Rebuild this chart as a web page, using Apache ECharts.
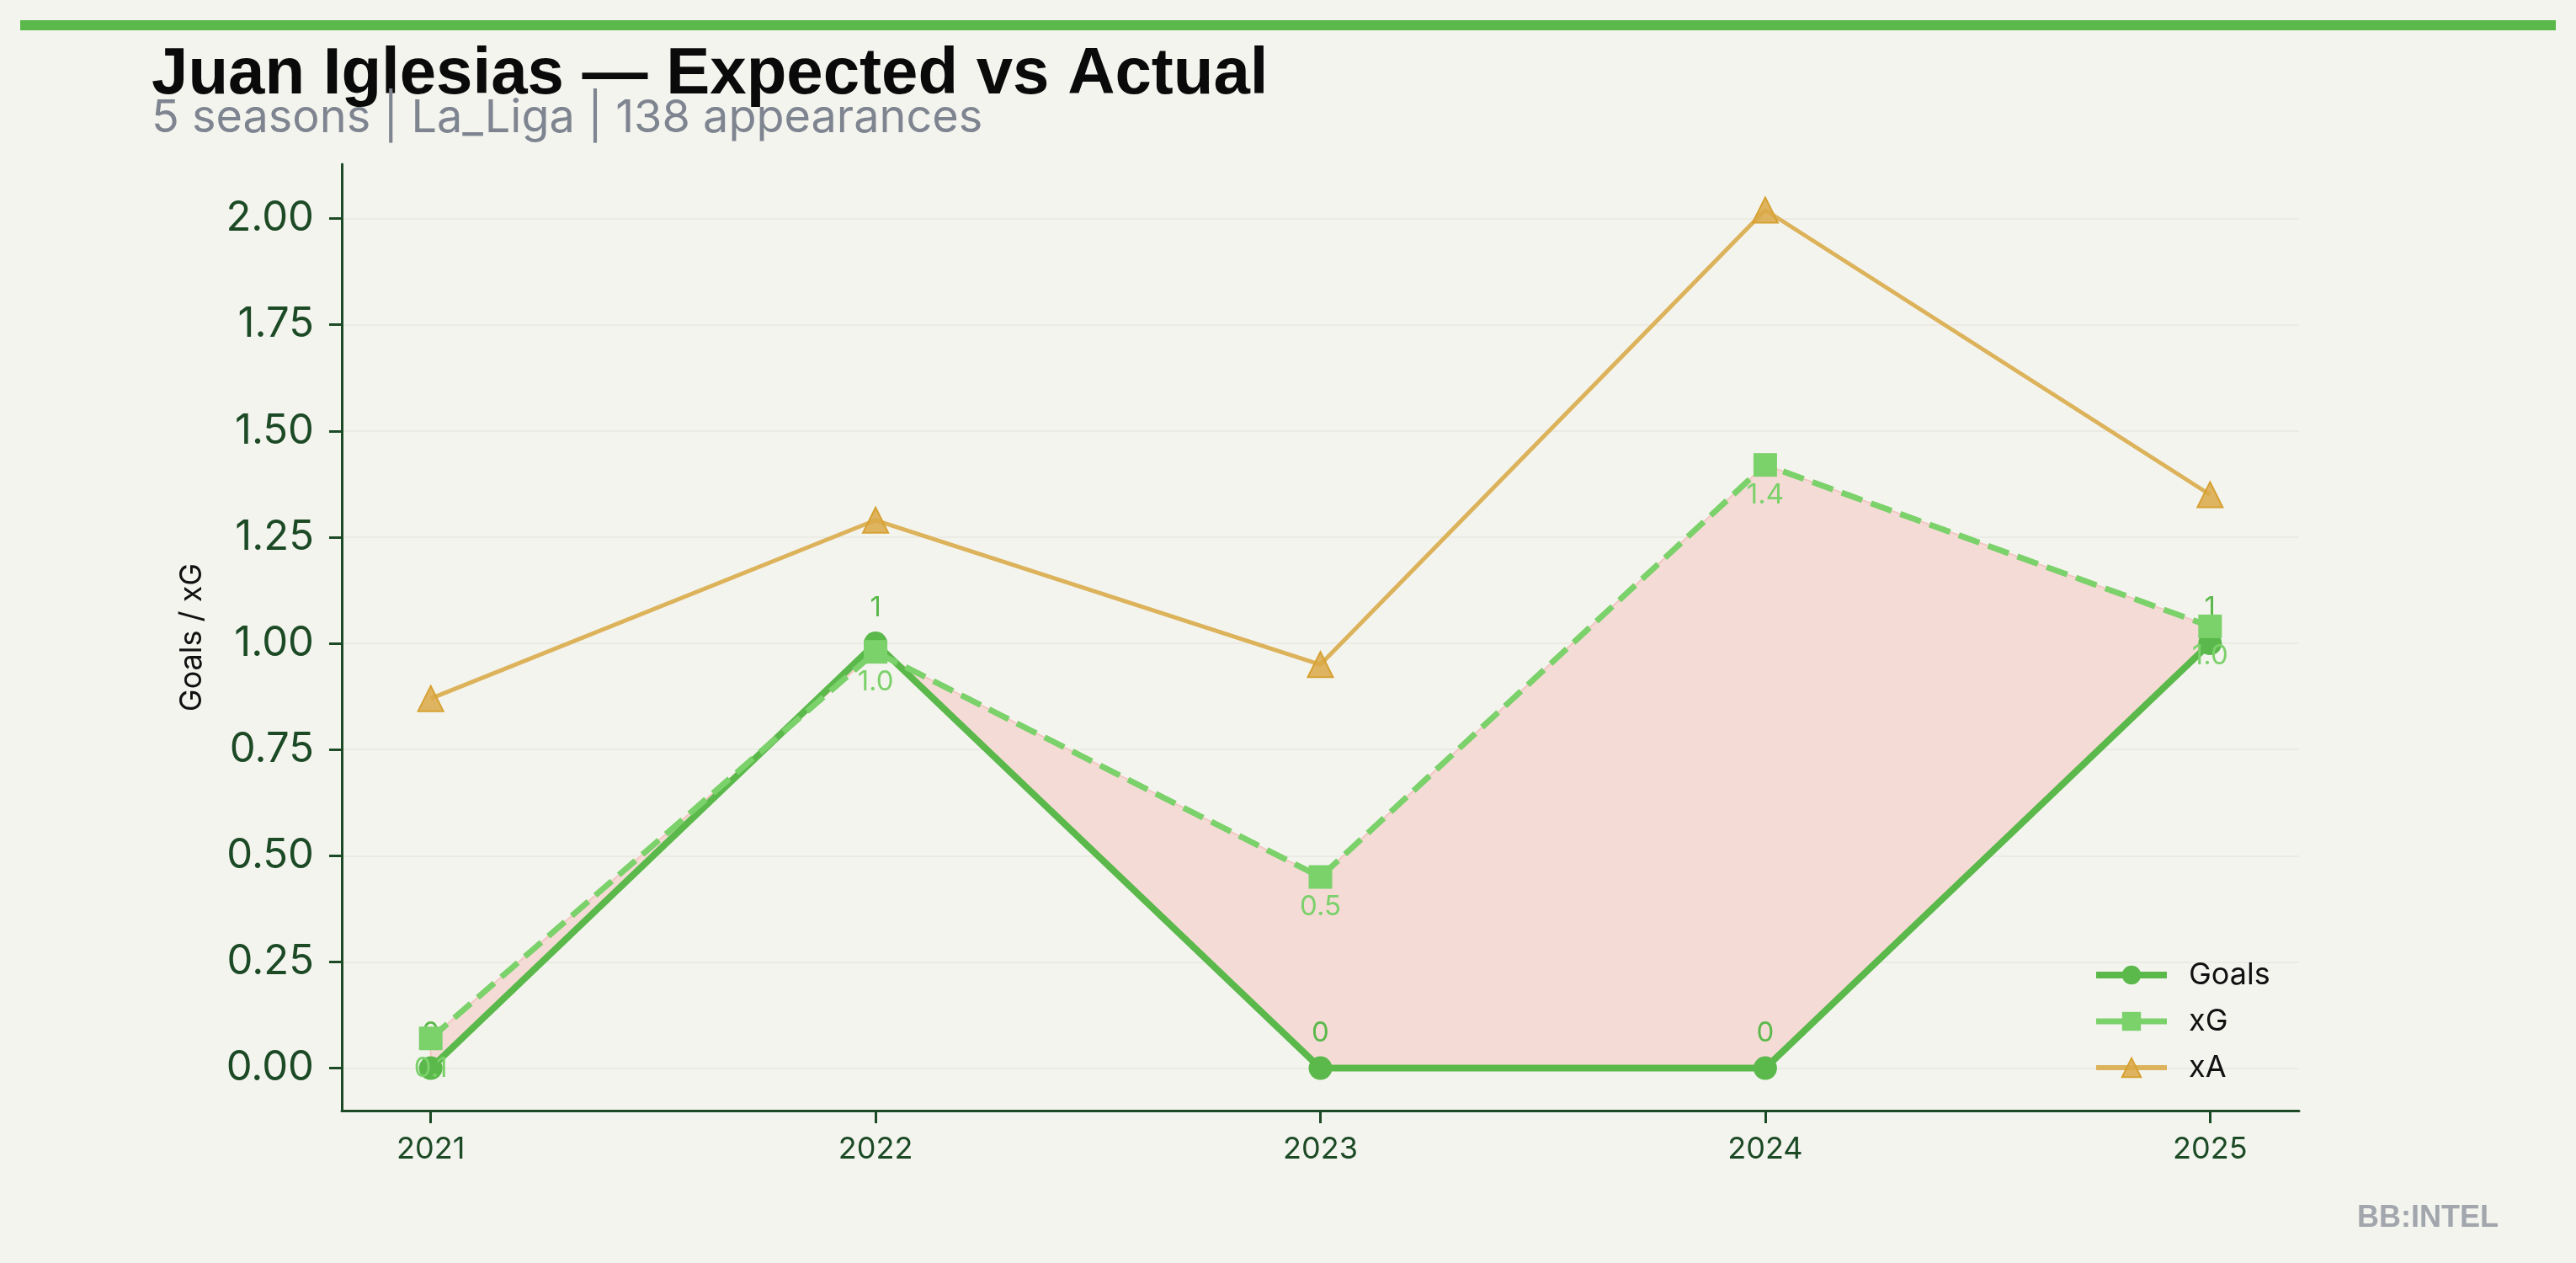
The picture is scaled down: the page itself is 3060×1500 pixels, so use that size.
<!DOCTYPE html>
<html>
<head>
<meta charset="utf-8">
<script src="https://cdn.jsdelivr.net/npm/echarts@6/dist/echarts.min.js"></script>
<style>
html,body{margin:0;padding:0;background:#f4f4ef;}
#chart{width:3060px;height:1500px;}
</style>
</head>
<body>
<div id="chart"></div>
<script>
const seasons = [2021, 2022, 2023, 2024, 2025];
const goals = [0, 1, 0, 0, 1];
const xg = [0.07, 0.98, 0.45, 1.42, 1.04];
const xa = [0.87, 1.29, 0.95, 2.02, 1.35];
const yTicks = [0, 0.25, 0.5, 0.75, 1.0, 1.25, 1.5, 1.75, 2.0];
const titleText = 'Juan Iglesias \u2014 Expected vs Actual';
const subtitleText = '5 seasons | La_Liga | 138 appearances';

const pairs = arr => seasons.map((s, i) => [s, arr[i]]);

const DARK = '#1c4a25';
const GOALS_C = '#5ab94a';
const XG_C = '#7bd16a';
const XA_C = '#dcb35b';

const chart = echarts.init(document.getElementById('chart'));
chart.setOption({
  backgroundColor: '#f4f4ef',
  animation: false,
  textStyle: { fontFamily: 'Inter' },
  graphic: [
    { type: 'rect', shape: { x: 24, y: 24, width: 3012, height: 12 }, style: { fill: GOALS_C } },
    { type: 'text', style: { x: 180, y: 50, text: titleText, font: 'bold 78px "Liberation Sans"', fill: '#0a0a0a', verticalAlign: 'top' } },
    { type: 'text', style: { x: 180, y: 114, text: subtitleText, font: '54px Inter', fill: '#7f8590', verticalAlign: 'top' } },
    { type: 'text', style: { x: 2968, y: 1429, text: 'BB:INTEL', font: 'bold 36px "Liberation Sans"', fill: '#a2a6ad', align: 'right', verticalAlign: 'top' } }
  ],
  grid: { left: 406, right: 329, top: 195, bottom: 181, containLabel: false },
  legend: {
    orient: 'vertical',
    left: 2486, top: 1140,
    itemWidth: 84, itemHeight: 28, itemGap: 19,
    padding: 0,
    textStyle: { fontFamily: 'Inter', fontSize: 36, color: '#111', padding: [0, 0, 0, 21] },
    data: [
      { name: 'Goals', lineStyle: { width: 8 } },
      { name: 'xG', lineStyle: { type: 'solid', width: 7 } },
      { name: 'xA', lineStyle: { width: 6 } }
    ]
  },
  xAxis: {
    type: 'value', min: 2020.8, max: 2025.2,
    axisLine: { show: true, onZero: false, lineStyle: { color: DARK, width: 3 } },
    axisTick: { show: true, length: 15, lineStyle: { color: DARK, width: 3 }, customValues: seasons },
    axisLabel: { customValues: seasons, fontSize: 36, color: DARK, margin: 28, fontFamily: 'Inter', formatter: v => String(v) },
    splitLine: { show: false }
  },
  yAxis: {
    type: 'value', min: -0.1, max: 2.128,
    name: 'Goals / xG', nameLocation: 'middle', nameGap: 160,
    nameTextStyle: { fontSize: 36, color: '#111', fontFamily: 'Inter' },
    axisLine: { show: true, onZero: false, lineStyle: { color: DARK, width: 3 } },
    axisTick: { show: true, length: 15, lineStyle: { color: DARK, width: 3 }, customValues: yTicks },
    axisLabel: { customValues: yTicks, fontSize: 49, color: DARK, margin: 33, fontFamily: 'Inter', formatter: v => v.toFixed(2) },
    splitLine: { show: true, lineStyle: { color: '#ebebe4', width: 2 } }
  },
  series: [
    {
      name: 'gap', type: 'custom', silent: true, z: 1,
      data: seasons.map((s, i) => [s, goals[i], xg[i]]),
      encode: { x: 0, y: [1, 2] },
      renderItem: (params, api) => {
        if (params.dataIndex !== 0) return null;
        const upper = seasons.map((s, i) => api.coord([s, goals[i]]));
        const lower = seasons.map((s, i) => api.coord([s, xg[i]])).reverse();
        return {
          type: 'polygon',
          shape: { points: upper.concat(lower) },
          style: { fill: '#f5dbd6', stroke: '#f2c8c2', lineWidth: 2 }
        };
      }
    },
    {
      name: 'xA', type: 'line', data: pairs(xa), color: XA_C,
      lineStyle: { color: XA_C, width: 5 },
      symbol: 'triangle', symbolSize: 30,
      itemStyle: { color: 'rgba(218,168,70,0.85)', borderColor: '#d6a132', borderWidth: 2 }, z: 2
    },
    {
      name: 'Goals', type: 'line', data: pairs(goals), color: GOALS_C,
      lineStyle: { color: GOALS_C, width: 8 },
      symbol: 'circle', symbolSize: 28, itemStyle: { color: GOALS_C },
      label: { show: true, position: 'top', distance: 11, color: GOALS_C, fontSize: 33, fontFamily: 'Inter',
               formatter: p => String(Math.round(p.value[1])) }, z: 3
    },
    {
      name: 'xG', type: 'line', data: pairs(xg), color: XG_C,
      lineStyle: { color: XG_C, width: 7, type: [26, 11] },
      symbol: 'rect', symbolSize: 28, itemStyle: { color: XG_C },
      label: { show: true, position: 'bottom', distance: 5, color: XG_C, fontSize: 33, fontFamily: 'Inter',
               formatter: p => p.value[1].toFixed(1) }, z: 4
    }
  ]
});
</script>
</body>
</html>
